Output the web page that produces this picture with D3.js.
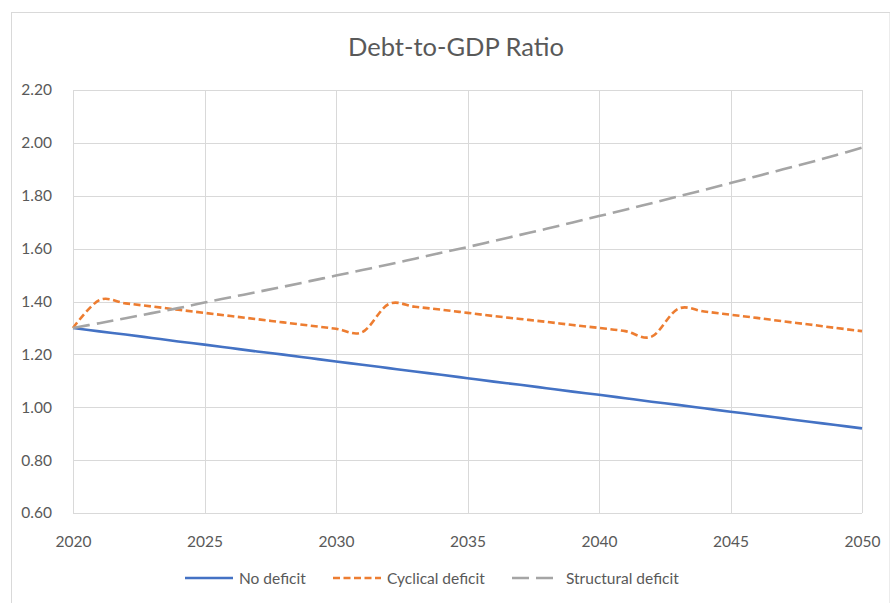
<!DOCTYPE html>
<html>
<head>
<meta charset="utf-8">
<script src="https://cdn.jsdelivr.net/npm/d3@7"></script>
<style>
  html, body { margin: 0; padding: 0; background: #fff; }
  svg { display: block; }
  text { font-family: Lato, "Open Sans", sans-serif; fill: #595959; }
</style>
</head>
<body>
<svg id="chart" width="890" height="603"></svg>
<script>
const years = d3.range(2020, 2051);
const noDeficit = [1.300, 1.287, 1.275, 1.262, 1.249, 1.237, 1.224, 1.211, 1.199, 1.186,
  1.173, 1.161, 1.148, 1.135, 1.123, 1.110, 1.097, 1.085, 1.072, 1.059,
  1.047, 1.034, 1.021, 1.009, 0.996, 0.983, 0.971, 0.958, 0.945, 0.933, 0.920];
const cyclicalDeficit = [1.300, 1.405, 1.393, 1.381, 1.369, 1.357, 1.345, 1.333, 1.321, 1.309,
  1.297, 1.284, 1.390, 1.380, 1.369, 1.357, 1.345, 1.334, 1.323, 1.311,
  1.300, 1.288, 1.267, 1.372, 1.362, 1.350, 1.338, 1.325, 1.313, 1.300, 1.288];
const structuralDeficit = [1.300, 1.318, 1.337, 1.356, 1.375, 1.396, 1.416, 1.436, 1.456, 1.477,
  1.498, 1.519, 1.540, 1.562, 1.584, 1.606, 1.629, 1.652, 1.675, 1.699,
  1.723, 1.747, 1.772, 1.797, 1.822, 1.848, 1.874, 1.900, 1.926, 1.953, 1.982];
const xTicks = [2020, 2025, 2030, 2035, 2040, 2045, 2050];
const yTicks = [0.60, 0.80, 1.00, 1.20, 1.40, 1.60, 1.80, 2.00, 2.20];
const seriesNames = ["No deficit", "Cyclical deficit", "Structural deficit"];
const title = "Debt-to-GDP Ratio";

const svg = d3.select("#chart");
const W = 890, H = 603;
const plot = { left: 73, right: 862, top: 90, bottom: 513 };

// outer chart border
svg.append("rect").attr("x", 11.5).attr("y", 12.5).attr("width", W - 11.5).attr("height", H - 12)
  .attr("fill", "#fff").attr("stroke", "#d9d9d9").attr("stroke-width", 1);

const x = d3.scaleLinear().domain([2020, 2050]).range([plot.left, plot.right]);
const y = d3.scaleLinear().domain([0.6, 2.2]).range([plot.bottom, plot.top]);

// gridlines
const grid = svg.append("g").attr("stroke", "#d9d9d9").attr("stroke-width", 1);
grid.selectAll(".h").data(yTicks).join("line")
  .attr("x1", plot.left).attr("x2", plot.right)
  .attr("y1", d => Math.round(y(d)) + 0.5).attr("y2", d => Math.round(y(d)) + 0.5);
grid.selectAll(".v").data(xTicks).join("line")
  .attr("y1", plot.top).attr("y2", plot.bottom)
  .attr("x1", d => Math.round(x(d)) + 0.5).attr("x2", d => Math.round(x(d)) + 0.5);

// axes (labels only)
const yAxis = svg.append("g").attr("transform", `translate(${plot.left - 18},0)`)
  .call(d3.axisLeft(y).tickValues(yTicks).tickFormat(d3.format(".2f")).tickSize(0));
yAxis.select(".domain").remove();
yAxis.selectAll("text").attr("font-size", 15.5).attr("fill", "#595959")
  .style("font-family", "Lato, sans-serif");

const xAxis = svg.append("g").attr("transform", `translate(0,${plot.bottom + 20})`)
  .call(d3.axisBottom(x).tickValues(xTicks).tickFormat(d3.format("d")).tickSize(0));
xAxis.select(".domain").remove();
xAxis.selectAll("text").attr("font-size", 15.5).attr("fill", "#595959")
  .style("font-family", "Lato, sans-serif");

// title
svg.append("text").attr("x", 456).attr("y", 56).attr("text-anchor", "middle")
  .attr("font-size", 25.5).text(title);

const styles = [
  { color: "#4472c4", dash: null },
  { color: "#ed7d31", dash: "7,3.5" },
  { color: "#a5a5a5", dash: "17,7" }
];
const allSeries = [noDeficit, cyclicalDeficit, structuralDeficit];

const line = d3.line().x((d, i) => x(years[i])).y(d => y(d)).curve(d3.curveCardinal.tension(0));

allSeries.forEach((s, k) => {
  svg.append("path").datum(s)
    .attr("d", line)
    .attr("fill", "none")
    .attr("stroke", styles[k].color)
    .attr("stroke-width", 2.6)
    .attr("stroke-dasharray", styles[k].dash)
    .attr("stroke-linejoin", "round");
});

// legend
const legendX = [185, 333, 512];
const leg = svg.append("g");
seriesNames.forEach((name, k) => {
  const g = leg.append("g").attr("transform", `translate(${legendX[k]},578)`);
  g.append("line").attr("x1", 0).attr("x2", 48).attr("y1", 0).attr("y2", 0)
    .attr("stroke", styles[k].color).attr("stroke-width", 2.6)
    .attr("stroke-dasharray", styles[k].dash);
  g.append("text").attr("x", 54).attr("y", 5.5).attr("font-size", 15.5).text(name);
});
</script>
</body>
</html>
